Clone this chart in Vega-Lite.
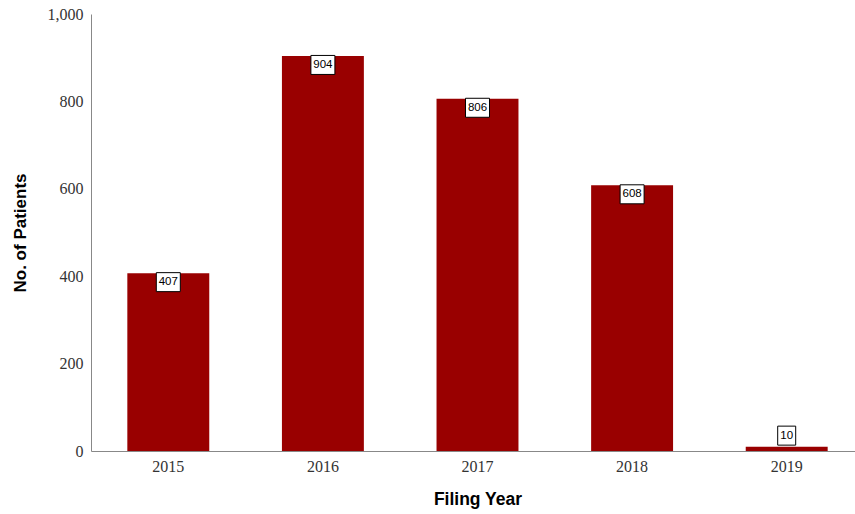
{
  "$schema": "https://vega.github.io/schema/vega-lite/v6.json",
  "width": 761,
  "height": 437,
  "autosize": "none",
  "padding": {"left": 91, "top": 14, "right": 3, "bottom": 63},
  "background": "white",
  "config": {"view": {"stroke": null}},
  "data": {"values": [
    {"year": "2015", "value": 407},
    {"year": "2016", "value": 904},
    {"year": "2017", "value": 806},
    {"year": "2018", "value": 608},
    {"year": "2019", "value": 10}
  ]},
  "encoding": {
    "x": {"field": "year", "type": "ordinal",
      "scale": {"range": [0, 773], "paddingInner": 0.47, "paddingOuter": 0.235},
      "axis": {"title": "Filing Year", "labelAngle": 0, "ticks": false, "labelPadding": 7,
        "labelFont": "Liberation Serif", "labelFontSize": 16, "labelColor": "#333333",
        "domainColor": "#888888", "titleFont": "Liberation Sans", "titleFontSize": 17.5,
        "titleFontWeight": "bold", "titleColor": "#000000", "titlePadding": 16}},
    "y": {"field": "value", "type": "quantitative",
      "scale": {"domain": [0, 1000]},
      "axis": {"title": "No. of Patients", "values": [0, 200, 400, 600, 800, 1000], "format": ",d",
        "grid": false, "ticks": false, "labelPadding": 8,
        "labelFont": "Liberation Serif", "labelFontSize": 16, "labelColor": "#333333",
        "domainColor": "#888888", "titleFont": "Liberation Sans", "titleFontSize": 17,
        "titleFontWeight": "bold", "titleColor": "#000000", "titlePadding": 18}}
  },
  "layer": [
    {"mark": {"type": "bar", "color": "#990000"}},
    {"mark": {"type": "point", "filled": true, "fill": "white", "fillOpacity": 1,
      "stroke": "black", "strokeWidth": 1, "opacity": 1, "size": 4,
      "shape": {"expr": "datum.value >= 100 ? 'M-12,-9.5L12,-9.5L12,9.5L-12,9.5Z' : 'M-9,-9.5L9,-9.5L9,9.5L-9,9.5Z'"},
      "yOffset": {"expr": "datum.value < 30 ? -11 : 9"}}},
    {"mark": {"type": "text", "font": "Liberation Sans", "fontSize": 11.5, "fill": "black",
      "baseline": "middle", "align": "center",
      "yOffset": {"expr": "datum.value < 30 ? -11 : 9"}},
      "encoding": {"text": {"field": "value", "type": "quantitative"}}}
  ]
}
